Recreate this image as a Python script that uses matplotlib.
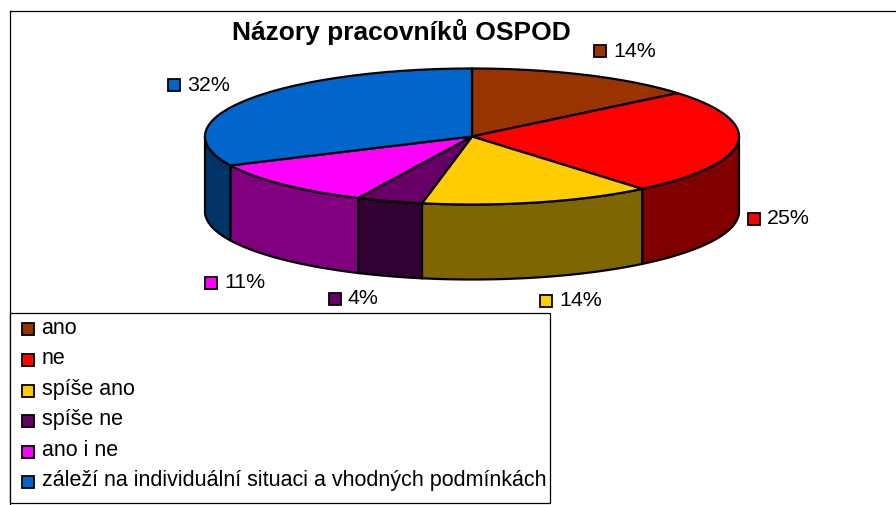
import matplotlib
matplotlib.use('Agg')
import matplotlib.pyplot as plt
from matplotlib.patches import Polygon, Rectangle
import numpy as np

plt.rcParams['font.family'] = ['Liberation Sans', 'DejaVu Sans']

title = 'Názory pracovníků OSPOD'
labels = ['ano', 'ne', 'spíše ano', 'spíše ne', 'ano i ne',
          'záleží na individuální situaci a vhodných podmínkách']
values = [14, 25, 14, 4, 11, 32]
top_colors = ['#993300', '#ff0000', '#ffcc00', '#660066', '#ff00ff', '#0066cc']
side_colors = ['#4d1a00', '#800000', '#806600', '#330033', '#800080', '#003366']
label_pos = [(594, 51.5), (748, 219), (540, 301), (329, 299), (205, 283), (168, 85)]

cx, cy, rx, ry, depth = 472, 137.5, 267, 68, 75

fig = plt.figure(figsize=(8.96, 5.06), dpi=100)
ax = fig.add_axes([0, 0, 1, 1])
ax.set_xlim(0, 896)
ax.set_ylim(506, 0)
ax.axis('off')


def rim(a1, a2):
    t = np.radians(np.linspace(a1, a2, 80))
    return cx + rx * np.sin(t), cy - ry * np.cos(t)


# outer frame, open on the right
ax.plot([9.5, 9.5], [506, 11.5], color='black', lw=0.9)
ax.plot([9.5, 896], [11.5, 11.5], color='black', lw=0.9)

edges = np.cumsum([0] + values) * 3.6

# walls, only the front half of the ellipse shows
for i in range(len(values)):
    a1, a2 = max(edges[i], 90), min(edges[i + 1], 270)
    if a1 >= a2:
        continue
    x, y = rim(a1, a2)
    pts = np.r_[np.c_[x, y], np.c_[x, y + depth][::-1]]
    ax.add_patch(Polygon(pts, fc=side_colors[i], ec='black', lw=1.6, zorder=2))

# top faces
for i in range(len(values)):
    x, y = rim(edges[i], edges[i + 1])
    pts = np.r_[[[cx, cy]], np.c_[x, y]]
    ax.add_patch(Polygon(pts, fc=top_colors[i], ec='black', lw=1.6, zorder=3))

# data labels
for v, c, (px, py) in zip(values, top_colors, label_pos):
    ax.add_patch(Rectangle((px, py - 5.5), 12, 12, fc=c, ec='black', lw=1.3, zorder=4))
    ax.text(px + 19, py, '%d%%' % v, fontsize=15.4, va='center', ha='left', zorder=4)

ax.text(401, 32, title, fontsize=19, fontweight='bold', ha='center', va='center', zorder=5)

# legend
ax.add_patch(Rectangle((9.5, 313.5), 540, 190, fc='white', ec='black', lw=0.9, zorder=4))
ys = [329, 360, 391, 421, 452, 482]
for lab, c, ly in zip(labels, top_colors, ys):
    ax.add_patch(Rectangle((21.5, ly - 5.5), 12, 12, fc=c, ec='black', lw=1.3, zorder=5))
    ax.text(41.5, ly - 1, lab, fontsize=15.5, va='center', ha='left', zorder=5)

fig.savefig('out.png', dpi=100)
